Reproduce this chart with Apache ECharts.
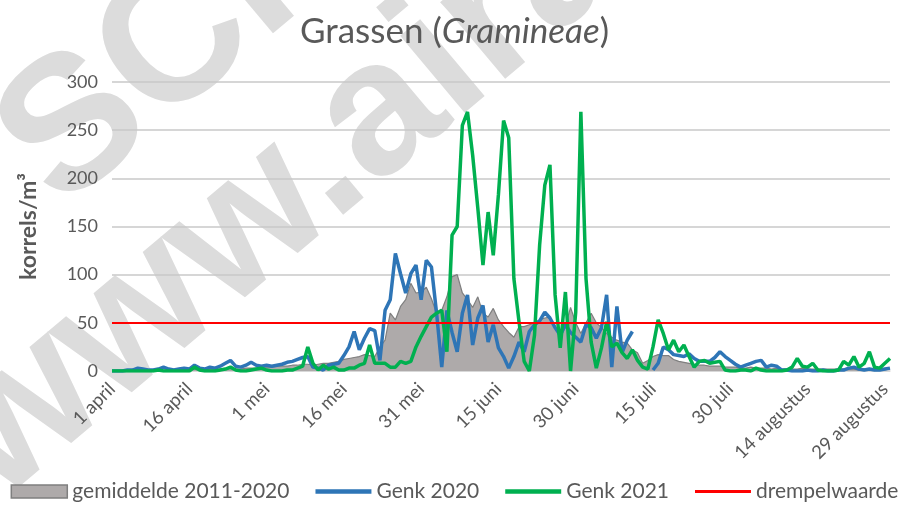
<!DOCTYPE html>
<html>
<head>
<meta charset="utf-8">
<script src="https://cdn.jsdelivr.net/npm/echarts@6/dist/echarts.min.js"></script>
<style>
  html, body { margin: 0; padding: 0; background: #fff; }
  #chart { width: 909px; height: 508px; }
</style>
</head>
<body>
<div id="chart"></div>
<script>
// daily counts 1 april .. 30 augustus (korrels/m³)
const monthNames = ['april', 'mei', 'juni', 'juli', 'augustus']
const monthDays = [30, 31, 30, 31, 30]

const gemiddelde = [
  0, 0, 0, 1, 1, 1, 1, 1, 1, 1,
  1, 1, 1, 2, 1, 1, 2, 2, 1, 2,
  2, 2, 2, 3, 2, 2, 3, 3, 3, 4,
  4, 4, 5, 5, 5, 6, 6, 7, 7, 6,
  7, 8, 8, 9, 10, 12, 13, 14, 15, 17,
  16, 15, 25, 32, 60, 53, 67, 74, 91, 81,
  82, 87, 75, 60, 63, 77, 98, 100, 81, 74,
  66, 77, 60, 56, 65, 53, 46, 40, 35, 46,
  46, 48, 50, 53, 55, 56, 45, 35, 46, 66,
  50, 39, 50, 60, 50, 45, 39, 35, 32, 30,
  29, 22, 19, 8, 11, 15, 17, 16, 16, 12,
  10, 9, 8, 7, 6, 6, 5, 5, 5, 4,
  4, 4, 3, 3, 4, 3, 3, 3, 2, 3,
  2, 2, 2, 2, 3, 2, 2, 2, 2, 2,
  2, 2, 2, 2, 2, 1, 2, 2, 2, 2,
  2, 2,
]

const genk2020 = [
  0, 0, 0, 1, 1, 3, 2, 1, 1, 2,
  4, 2, 1, 2, 3, 2, 6, 3, 2, 4,
  3, 5, 8, 11, 5, 4, 6, 9, 6, 5,
  6, 5, 6, 7, 9, 10, 12, 14, 15, 4,
  3, 1, 6, 7, 8, 16, 25, 41, 22, 34,
  44, 42, 11, 63, 74, 122, 101, 81, 101, 110,
  74, 115, 108, 60, 4, 63, 40, 20, 60, 79,
  27, 55, 68, 30, 48, 24, 15, 3, 15, 30,
  20, 41, 48, 52, 61, 55, 45, 37, 48, 40,
  35, 30, 48, 45, 34, 45, 79, 4, 67, 19,
  32, 41, null, null, null, 1, 8, 25, 22, 17,
  16, 15, 18, 13, 10, 10, 10, 14, 20, 15,
  11, 7, 4, 6, 8, 10, 11, 4, 6, 5,
  1, 1, 0, 0, 0, 1, 0, 0, 1, 0,
  0, 1, 1, 3, 4, 2, 1, 2, 1, 1,
  2, 3,
]

const genk2021 = [
  0, 0, 0, 0, 0, 0, 0, 0, 0, 1,
  0, 0, 0, 0, 0, 0, 4, 1, 0, 0,
  0, 1, 2, 4, 1, 0, 0, 1, 2, 3,
  1, 0, 0, 0, 1, 1, 3, 5, 25, 8,
  1, 6, 2, 4, 1, 1, 3, 3, 6, 8,
  27, 8, 8, 8, 4, 4, 10, 8, 10, 25,
  36, 46, 56, 60, 63, 20, 141, 150, 255, 269,
  224, 169, 110, 165, 120, 183, 260, 242, 96, 51,
  10, 0, 37, 131, 193, 214, 79, 24, 82, 0,
  61, 269, 96, 30, 3, 24, 51, 25, 29, 19,
  13, 22, 11, 4, 2, 25, 53, 39, 22, 32,
  20, 27, 15, 4, 10, 11, 8, 9, 10, 1,
  0, 0, 1, 1, 0, 3, 1, 0, 0, 0,
  0, 1, 4, 13, 5, 4, 8, 1, 0, 0,
  0, 1, 10, 6, 15, 4, 8, 20, 4, 3,
  8, 13,
]

const drempelwaarde = 50
const yTicks = { min: 0, max: 300, interval: 50 }
const seriesNames = ['gemiddelde 2011-2020', 'Genk 2020', 'Genk 2021', 'drempelwaarde']

const days = []
monthNames.forEach((month, m) => {
  for (let d = 1; d <= monthDays[m]; d++) days.push(d + ' ' + month)
})

const textColor = '#595959'
const font = 'Lato'
// thin line icon; the specks at the corners keep the path box 56x13
const lineIcon = (h) => `path://M0,0h0.01v0.01h-0.01z M0,${6.5 - h / 2}h56v${h}H0z M55.99,13h0.01v0.01h-0.01z`

// watermark, drawn behind the chart
const wmAngle = 40 * Math.PI / 180
const wmFont = 'bold 190px "Liberation Sans"'
const wmStyle = (text, align) => ({ text, font: wmFont, fill: '#dcdcdc', align, verticalAlign: 'middle' })

const chart = echarts.init(document.getElementById('chart'))
chart.setOption({
  animation: false,
  graphic: [
    { type: 'text', x: 340, y: 149, rotation: wmAngle, z: -10, silent: true, style: wmStyle('www.', 'right') },
    { type: 'text', x: 340, y: 149, rotation: wmAngle, z: -10, silent: true, style: wmStyle('airallergy.be', 'left') },
    { type: 'text', x: 460, y: -192, rotation: wmAngle, z: -10, silent: true, style: wmStyle('SCIENSANO', 'center') },
  ],
  title: {
    text: '{n|Grassen (}{i|Gramineae}{n|)}',
    left: 'center',
    top: 9,
    textStyle: {
      fontWeight: 'normal',
      rich: {
        n: { fontFamily: font, fontSize: 35, fontWeight: 'normal', color: textColor },
        i: { fontFamily: font, fontSize: 35, fontWeight: 'normal', color: textColor, fontStyle: 'italic' },
      },
    },
  },
  grid: { left: 112, right: 19, top: 82, bottom: 137 },
  legend: {
    bottom: 1,
    left: 'center',
    itemWidth: 56,
    itemHeight: 13,
    itemGap: 26,
    textStyle: { fontFamily: font, fontSize: 21, color: textColor },
    data: [
      { name: seriesNames[0], icon: 'rect', itemStyle: { color: '#aeaaaa', borderColor: '#7f7f7f', borderWidth: 1.5 } },
      { name: seriesNames[1], icon: lineIcon(4.5), itemStyle: { color: '#2e75b6', borderWidth: 0 } },
      { name: seriesNames[2], icon: lineIcon(4.5), itemStyle: { color: '#00b050', borderWidth: 0 } },
      { name: seriesNames[3], icon: lineIcon(3), itemStyle: { color: '#ff0000', borderWidth: 0 } },
    ],
  },
  xAxis: {
    type: 'category',
    data: days,
    boundaryGap: false,
    axisTick: { show: false },
    axisLine: { lineStyle: { color: '#d9d9d9', width: 1.5 } },
    axisLabel: {
      interval: 14,
      rotate: 45,
      margin: 15,
      fontFamily: font,
      fontSize: 18.5,
      color: textColor,
    },
  },
  yAxis: {
    type: 'value',
    min: yTicks.min,
    max: yTicks.max,
    interval: yTicks.interval,
    name: 'korrels/m³',
    nameLocation: 'middle',
    nameGap: 72,
    nameTextStyle: { fontFamily: font, fontSize: 23, fontWeight: 'bold', color: textColor },
    axisLabel: { fontFamily: font, fontSize: 18, color: textColor, margin: 14 },
    splitLine: { lineStyle: { color: '#c8c8c8', width: 1.5 } },
  },
  series: [
    {
      name: seriesNames[0],
      type: 'line',
      data: gemiddelde,
      symbol: 'none',
      color: '#aeaaaa',
      lineStyle: { color: '#7f7f7f', width: 1.2 },
      areaStyle: { color: '#aeaaaa', opacity: 1 },
      z: 1,
    },
    {
      name: seriesNames[1],
      type: 'line',
      data: genk2020,
      symbol: 'none',
      color: '#2e75b6',
      lineStyle: { width: 3.5 },
      z: 2,
    },
    {
      name: seriesNames[2],
      type: 'line',
      data: genk2021,
      symbol: 'none',
      color: '#00b050',
      lineStyle: { width: 3.5 },
      z: 3,
    },
    {
      name: seriesNames[3],
      type: 'line',
      data: [],
      symbol: 'none',
      color: '#ff0000',
      lineStyle: { width: 2.5 },
      markLine: {
        silent: true,
        symbol: 'none',
        label: { show: false },
        lineStyle: { color: '#ff0000', width: 2, type: 'solid' },
        data: [{ yAxis: drempelwaarde }],
      },
      z: 4,
    },
  ],
})
</script>
</body>
</html>
